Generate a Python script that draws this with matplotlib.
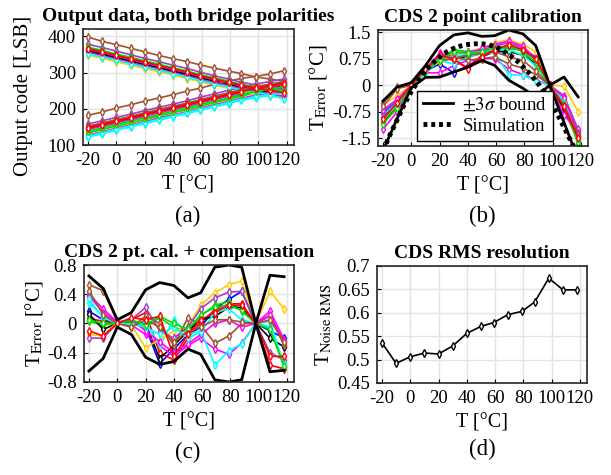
import numpy as np
import matplotlib
matplotlib.use("Agg")
import matplotlib.pyplot as plt

plt.rcParams['font.family'] = 'serif'
plt.rcParams['font.serif'] = ['Liberation Serif', 'DejaVu Serif']
plt.rcParams['mathtext.fontset'] = 'stix'
plt.rcParams['axes.unicode_minus'] = False

# temperature points [degC]
temps = [-20, -10, 0, 10, 20, 30, 40, 50, 59, 69, 79, 88, 98, 108, 118]

chip_colors = ['#0000FF', '#FF0000', '#00DD00', '#000000', '#FF00FF', '#00FFFF', '#FFCC00',
               '#A0522D', '#A040C0', '#FF00FF', '#00FFFF', '#A0522D', '#00DD00', '#FF0000']

# (a) output code, polarity with falling code
code_hi = [
    [362, 353, 344, 334, 325, 316, 306, 297, 288, 278, 270, 262, 254, 247, 240],
    [365, 356, 346, 337, 328, 318, 309, 300, 291, 281, 273, 264, 257, 250, 243],
    [357, 348, 338, 329, 320, 311, 302, 293, 283, 274, 266, 257, 250, 243, 236],
    [360, 351, 341, 332, 323, 314, 304, 295, 286, 277, 268, 260, 253, 246, 239],
    [364, 355, 345, 336, 326, 317, 308, 299, 289, 280, 271, 263, 256, 249, 242],
    [350, 341, 331, 322, 313, 303, 294, 285, 276, 266, 258, 250, 243, 236, 229],
    [348, 339, 330, 320, 311, 302, 293, 283, 275, 265, 257, 249, 241, 236, 231],
    [398, 386, 377, 367, 357, 347, 338, 330, 321, 312, 304, 297, 288, 282, 276],
    [378, 369, 359, 349, 339, 330, 320, 311, 301, 291, 282, 273, 266, 260, 253],
    [355, 346, 336, 327, 317, 308, 299, 290, 280, 271, 262, 254, 247, 241, 234],
    [352, 343, 334, 324, 315, 306, 297, 287, 278, 268, 260, 252, 245, 239, 226],
    [368, 359, 349, 340, 330, 321, 312, 302, 293, 284, 275, 266, 259, 252, 246],
    [370, 361, 351, 342, 332, 323, 313, 304, 294, 285, 276, 267, 260, 254, 247],
    [366, 357, 347, 338, 329, 319, 310, 301, 291, 282, 273, 265, 258, 251, 244],
]
# (a) output code, polarity with rising code
code_lo = [
    [150, 159, 168, 177, 186, 195, 204, 213, 222, 231, 240, 248, 257, 264, 270],
    [148, 157, 167, 176, 185, 194, 204, 212, 221, 231, 240, 249, 258, 265, 272],
    [133, 143, 152, 161, 170, 180, 189, 198, 207, 217, 226, 235, 244, 250, 256],
    [145, 154, 163, 172, 181, 190, 199, 208, 217, 227, 236, 244, 253, 259, 265],
    [143, 152, 161, 170, 180, 189, 198, 207, 217, 226, 235, 244, 253, 260, 266],
    [122, 131, 141, 150, 159, 168, 178, 187, 196, 205, 214, 223, 231, 236, 240],
    [128, 137, 147, 156, 165, 175, 184, 193, 202, 212, 221, 229, 237, 242, 246],
    [182, 191, 202, 211, 221, 230, 239, 249, 257, 267, 276, 284, 289, 296, 305],
    [158, 167, 176, 185, 195, 204, 213, 222, 232, 241, 251, 260, 268, 275, 282],
    [127, 136, 146, 155, 164, 174, 183, 192, 201, 211, 220, 229, 237, 241, 245],
    [125, 134, 144, 153, 162, 171, 181, 190, 199, 208, 218, 226, 234, 239, 242],
    [152, 161, 170, 179, 189, 198, 207, 216, 225, 235, 244, 253, 261, 268, 275],
    [138, 147, 157, 166, 175, 184, 194, 203, 212, 221, 230, 239, 248, 254, 260],
    [147, 156, 165, 174, 184, 193, 202, 211, 220, 229, 239, 247, 256, 263, 269],
]

# (b) error after 2 point calibration
err_cal = [
    [-0.80, -0.45, 0, 0.40, 0.60, 0.35, 0.55, 0.80, 0.95, 1.05, 1.00, 0.80, 0, -0.55, -1.45],
    [-1.05, -0.60, 0, 0.45, 0.80, 0.70, 0.50, 0.85, 1.00, 1.10, 0.95, 0.60, 0, -0.70, -1.55],
    [-1.00, -0.55, 0, 0.40, 0.75, 1.00, 0.95, 1.00, 1.00, 1.05, 1.00, 0.55, 0, -0.60, -1.65],
    [-0.90, -0.50, 0, 0.40, 0.70, 0.75, 0.80, 0.90, 0.95, 0.95, 0.85, 0.60, 0, -0.65, -1.50],
    [-1.25, -0.75, 0, 0.35, 0.35, 0.55, 0.70, 0.75, 0.75, 0.45, 0.30, 0.15, 0, -0.85, -1.30],
    [-0.85, -0.50, 0, 0.35, 0.70, 0.60, 0.80, 0.90, 0.90, 0.30, 0.28, 0.12, 0, -0.45, -1.60],
    [-0.55, -0.30, 0, 0.45, 0.65, 0.85, 0.95, 1.05, 1.20, 1.28, 1.15, 0.95, 0, -0.03, -0.75],
    [-0.50, -0.05, 0, 0.45, 0.75, 0.80, 0.70, 0.75, 0.80, 0.60, 0.48, 0.30, 0, -0.60, -1.45],
    [-0.75, -0.45, 0, 0.40, 0.85, 0.90, 0.95, 1.00, 1.10, 1.20, 1.05, 0.70, 0, -0.30, -1.25],
    [-0.70, -0.40, 0, 0.45, 0.90, 0.80, 0.85, 1.05, 1.15, 1.25, 1.10, 0.75, 0, -0.35, -1.35],
    [-0.95, -0.55, 0, 0.40, 0.75, 0.80, 0.90, 0.95, 1.00, 1.00, 0.85, 0.55, 0, -0.50, -1.55],
    [-0.60, -0.10, 0, 0.45, 0.70, 0.75, 0.85, 0.90, 0.95, 0.80, 0.70, 0.40, 0, -0.55, -1.40],
    [-1.10, -0.65, 0, 0.40, 0.70, 0.95, 0.90, 0.95, 1.05, 1.10, 0.95, 0.65, 0, -0.55, -1.60],
    [-0.95, -0.50, 0, 0.45, 0.85, 0.75, 0.45, 0.80, 1.00, 1.15, 1.00, 0.75, 0, -0.60, -1.50],
]
cal_upper = [-0.45, -0.05, 0.07, 0.55, 1.12, 1.42, 1.48, 1.38, 1.40, 1.56, 1.45, 1.12, 0.0, 0.23, -0.33]
cal_lower = [-1.85, -0.95, -0.07, 0.22, 0.23, 0.37, 0.51, 0.70, 0.56, 0.14, -0.09, -0.33, 0.0, -1.05, -2.1]

sim_temps = [-20, -15, -10, -5, 0, 5, 10, 15, 20, 25, 30, 35, 40, 45, 50, 55, 60,
             65, 70, 75, 80, 85, 90, 95, 100, 105, 110, 115, 120]
sim_err = [-1.85, -1.40, -0.98, -0.55, -0.18, 0.12, 0.40, 0.62, 0.80, 0.94, 1.04, 1.11, 1.15,
           1.17, 1.17, 1.14, 1.08, 0.97, 0.84, 0.68, 0.48, 0.27, 0.03, -0.25, -0.57, -0.95,
           -1.35, -1.75, -2.2]

# (c) error after calibration + compensation
err_comp = [
    [0.17, 0.05, 0.0, 0.0, -0.05, -0.55, -0.35, -0.15, -0.05, 0.20, 0.33, 0.44, 0, -0.10, -0.20],
    [0.07, 0.03, 0.0, 0.05, 0.15, -0.40, -0.50, -0.20, 0.02, 0.18, 0.27, 0.27, 0, -0.57, -0.62],
    [0.03, -0.02, 0.0, 0.02, -0.05, 0.08, -0.05, -0.12, 0.10, 0.25, 0.30, 0.17, 0, -0.05, -0.60],
    [0.13, -0.08, 0.0, 0.03, 0.00, -0.48, -0.30, -0.10, 0.05, 0.10, 0.22, 0.22, 0, -0.20, -0.32],
    [0.40, 0.20, 0.02, -0.02, -0.15, -0.30, -0.45, -0.30, -0.20, -0.35, -0.42, -0.27, 0, 0.17, -0.22],
    [0.28, 0.10, 0.02, -0.05, 0.02, -0.30, 0.05, -0.15, -0.10, -0.57, -0.37, -0.28, 0, 0.03, -0.58],
    [-0.15, -0.17, 0.02, -0.02, -0.33, -0.22, -0.10, -0.05, 0.25, 0.42, 0.53, 0.58, 0, 0.44, 0.20],
    [0.53, 0.45, 0.03, -0.05, 0.10, 0.00, -0.30, 0.08, -0.02, -0.27, -0.17, 0.00, 0, 0.10, -0.30],
    [-0.20, -0.20, 0.0, 0.05, 0.22, -0.10, -0.20, -0.05, 0.20, 0.35, 0.43, 0.44, 0, -0.40, -0.50],
    [0.38, 0.15, 0.02, 0.05, -0.10, -0.25, -0.40, -0.28, -0.15, 0.00, 0.05, -0.05, 0, 0.12, -0.25],
    [0.33, 0.08, 0.0, 0.00, -0.05, -0.15, -0.05, -0.20, -0.12, 0.15, 0.20, 0.05, 0, -0.05, -0.55],
    [0.45, 0.12, 0.0, -0.05, 0.05, -0.05, -0.25, -0.10, -0.05, 0.05, 0.05, 0.02, 0, 0.05, -0.25],
    [0.05, 0.00, 0.0, 0.05, -0.02, 0.10, 0.00, -0.08, 0.12, 0.22, 0.25, 0.18, 0, -0.08, -0.58],
    [-0.10, -0.17, 0.0, 0.08, 0.05, 0.10, -0.45, -0.15, 0.05, 0.15, 0.25, 0.25, 0, -0.45, -0.45],
]
comp_3sigma = [0.65, 0.48, 0.05, 0.15, 0.46, 0.56, 0.52, 0.35, 0.42, 0.77, 0.80, 0.77, 0.0, 0.66, 0.64]

# (d) RMS noise [degC]
noise_rms = [0.536, 0.492, 0.506, 0.514, 0.512, 0.529, 0.556, 0.571, 0.579, 0.596, 0.603,
             0.623, 0.674, 0.649, 0.649]


def style_axes(ax):
    ax.set_xlim(-23.5, 125)
    ax.set_xticks(np.arange(-20, 121, 20))
    ax.grid(True, color='#E3E3E3', linewidth=1.0)
    ax.set_axisbelow(True)
    ax.tick_params(direction='in', length=3, labelsize=13.5, pad=5)
    for s in ax.spines.values():
        s.set_linewidth(1.2)
        s.set_color('#262626')
    ax.set_xlabel('T [°C]', fontsize=14.5, labelpad=5)


def chip_line(ax, y, c, lw=1.2):
    ax.plot(temps, y, color=c, lw=lw, marker='d', ms=4.2, mfc='white', mew=1.0)


fig = plt.figure(figsize=(6.11, 4.75), dpi=100)
ax_a = fig.add_axes([0.1358, 0.6947, 0.3453, 0.2442])
ax_b = fig.add_axes([0.6187, 0.6926, 0.3437, 0.2442])
ax_c = fig.add_axes([0.1375, 0.1958, 0.3437, 0.2463])
ax_d = fig.add_axes([0.6170, 0.1937, 0.3437, 0.2463])

title_kw = dict(fontsize=14, fontweight='bold', pad=6)

# (a)
for i in range(len(code_hi)):
    chip_line(ax_a, code_hi[i], chip_colors[i])
    chip_line(ax_a, code_lo[i], chip_colors[i])
style_axes(ax_a)
ax_a.set_ylim(100, 420)
ax_a.set_yticks([100, 200, 300, 400])
ax_a.set_ylabel('Output code [LSB]', fontsize=15, labelpad=5)
ax_a.yaxis.set_label_coords(-0.235, 0.42)
ax_a.set_title('Output data, both bridge polarities', **title_kw)

# (b)
for i in range(len(err_cal)):
    chip_line(ax_b, err_cal[i], chip_colors[i])
ax_b.plot(temps, cal_upper, color='k', lw=2.0, label=r'$\pm3\sigma$ bound')
ax_b.plot(temps, cal_lower, color='k', lw=2.0)
ax_b.plot(sim_temps, sim_err, color='k', lw=3.5, ls=(0, (0.8, 0.8)), label='Simulation')
style_axes(ax_b)
ax_b.set_ylim(-1.72, 1.56)
ax_b.set_yticks([-1.5, -0.75, 0, 0.75, 1.5])
ax_b.set_yticklabels(['-1.5', '-0.75', '0', '0.75', '1.5'])
ax_b.set_ylabel(r'T$_\mathrm{Error}$ [°C]', fontsize=15, labelpad=2)
ax_b.set_title('CDS 2 point calibration', **title_kw)
leg = ax_b.legend(loc='lower left', bbox_to_anchor=(0.17, 0.015), fontsize=13.5,
                  frameon=True, fancybox=False, framealpha=1, edgecolor='k',
                  handlelength=1.6, borderpad=0.3, labelspacing=0.2, handletextpad=0.5,
                  borderaxespad=0.2)
leg.get_frame().set_linewidth(1.0)

# (c)
for i in range(len(err_comp)):
    chip_line(ax_c, err_comp[i], chip_colors[i])
ax_c.plot(temps, comp_3sigma, color='k', lw=2.0)
ax_c.plot(temps, [-v for v in comp_3sigma], color='k', lw=2.0)
style_axes(ax_c)
ax_c.set_ylim(-0.8, 0.8)
ax_c.set_yticks([-0.8, -0.4, 0, 0.4, 0.8])
ax_c.set_yticklabels(['-0.8', '-0.4', '0', '0.4', '0.8'])
ax_c.set_ylabel(r'T$_\mathrm{Error}$ [°C]', fontsize=15, labelpad=2)
ax_c.set_title('CDS 2 pt. cal. + compensation', **title_kw)

# (d)
ax_d.plot(temps, noise_rms, color='k', lw=1.2, marker='d', ms=4.2, mfc='white', mew=1.0)
style_axes(ax_d)
ax_d.set_ylim(0.45, 0.7)
ax_d.set_yticks([0.45, 0.5, 0.55, 0.6, 0.65, 0.7])
ax_d.set_yticklabels(['0.45', '0.5', '0.55', '0.6', '0.65', '0.7'])
ax_d.set_ylabel(r'T$_\mathrm{Noise\ RMS}$', fontsize=15, labelpad=2)
ax_d.set_title('CDS RMS resolution', **title_kw)

# captions
fig.text(188 / 611, 1 - 216 / 475, '(a)', fontsize=16.5, ha='center', va='center')
fig.text(482 / 611, 1 - 216 / 475, '(b)', fontsize=16.5, ha='center', va='center')
fig.text(188 / 611, 1 - 452 / 475, '(c)', fontsize=16.5, ha='center', va='center')
fig.text(482 / 611, 1 - 449 / 475, '(d)', fontsize=16.5, ha='center', va='center')

fig.savefig('out.png', dpi=100)
